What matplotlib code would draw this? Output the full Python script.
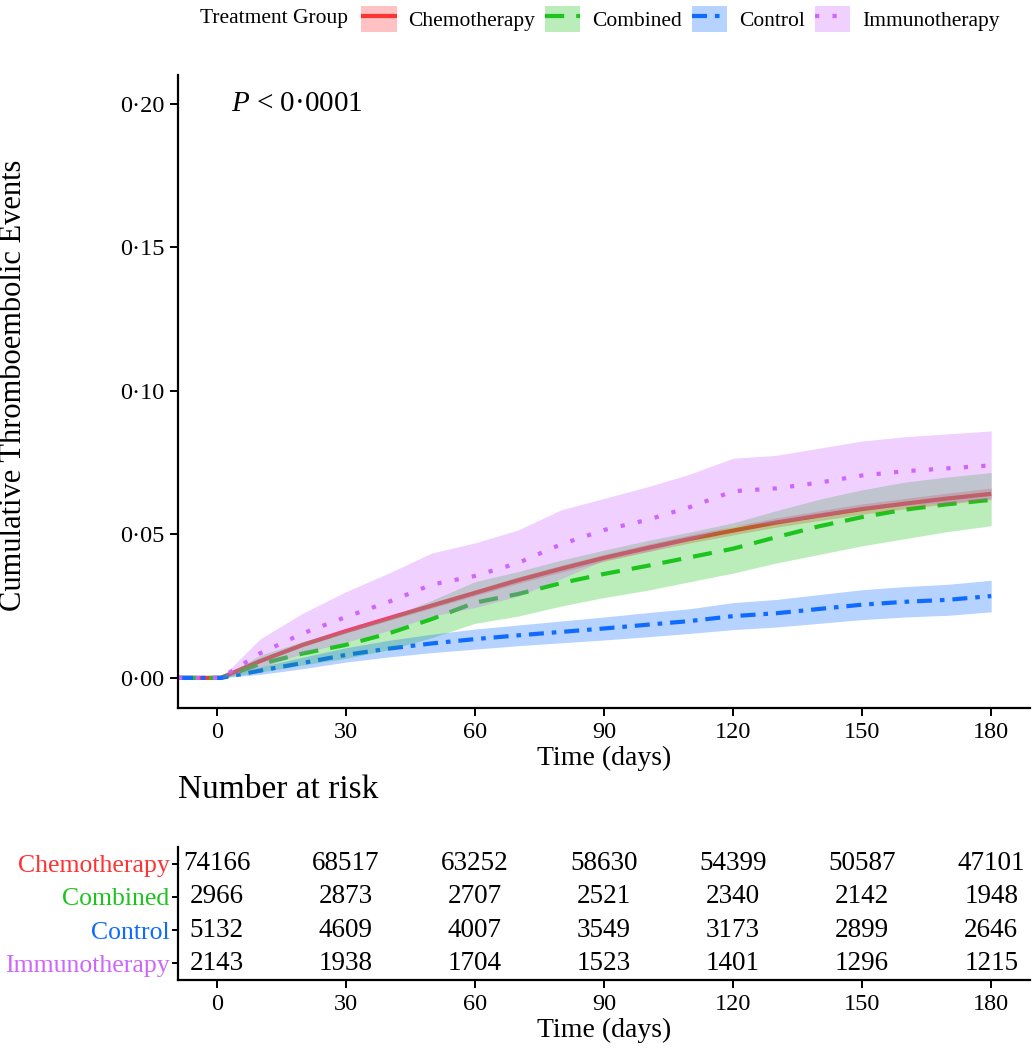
import matplotlib
matplotlib.use("Agg")
import matplotlib.pyplot as plt
from matplotlib.patches import Patch
from matplotlib.lines import Line2D
import numpy as np

plt.rcParams['font.family'] = ['Liberation Serif', 'DejaVu Serif']
plt.rcParams['mathtext.fontset'] = 'custom'
plt.rcParams['mathtext.rm'] = 'Liberation Serif'
plt.rcParams['mathtext.it'] = 'Liberation Serif:italic'

# ---------------- data ----------------
groups = ["Chemotherapy", "Combined", "Control", "Immunotherapy"]
colors = ["#FF3333", "#1DC41D", "#0F6BFF", "#CC66FF"]

times = [-9, 1, 10, 20, 30, 40, 50, 60, 70, 80, 90, 100, 110, 120, 130, 140, 150, 160, 170, 180]

chemo_est = [0, 0, 0.0058, 0.0115, 0.0163, 0.0208, 0.0252, 0.0296, 0.0340, 0.0380, 0.0418,
             0.0452, 0.0484, 0.0513, 0.0541, 0.0565, 0.0588, 0.0607, 0.0625, 0.0641]
chemo_lo = [0, 0, 0.0053, 0.0109, 0.0156, 0.0200, 0.0243, 0.0286, 0.0329, 0.0368, 0.0406,
            0.0439, 0.0470, 0.0498, 0.0525, 0.0548, 0.0570, 0.0589, 0.0606, 0.0621]
chemo_hi = [0, 0, 0.0063, 0.0121, 0.0170, 0.0216, 0.0261, 0.0306, 0.0351, 0.0392, 0.0430,
            0.0465, 0.0498, 0.0528, 0.0557, 0.0582, 0.0606, 0.0625, 0.0644, 0.0661]

comb_est = [0, 0, 0.0048, 0.0085, 0.0115, 0.0155, 0.0205, 0.0262, 0.0292, 0.0330, 0.0362,
            0.0390, 0.0420, 0.0450, 0.0490, 0.0528, 0.0560, 0.0586, 0.0605, 0.0620]
comb_lo = [0, 0, 0.0020, 0.0045, 0.0068, 0.0098, 0.0140, 0.0190, 0.0215, 0.0250, 0.0280,
           0.0305, 0.0335, 0.0365, 0.0400, 0.0430, 0.0460, 0.0485, 0.0510, 0.0530]
comb_hi = [0, 0, 0.0078, 0.0127, 0.0165, 0.0210, 0.0270, 0.0335, 0.0370, 0.0410, 0.0445,
           0.0478, 0.0508, 0.0540, 0.0582, 0.0622, 0.0655, 0.0682, 0.0700, 0.0715]

ctrl_est = [0, 0, 0.0025, 0.0052, 0.0080, 0.0102, 0.0120, 0.0135, 0.0148, 0.0160, 0.0172,
            0.0185, 0.0198, 0.0215, 0.0225, 0.0240, 0.0255, 0.0265, 0.0272, 0.0285]
ctrl_lo = [0, 0, 0.0012, 0.0032, 0.0055, 0.0073, 0.0088, 0.0100, 0.0112, 0.0122, 0.0132,
           0.0143, 0.0155, 0.0168, 0.0177, 0.0190, 0.0203, 0.0212, 0.0218, 0.0230]
ctrl_hi = [0, 0, 0.0038, 0.0072, 0.0105, 0.0131, 0.0152, 0.0170, 0.0184, 0.0198, 0.0212,
           0.0227, 0.0241, 0.0262, 0.0273, 0.0290, 0.0307, 0.0318, 0.0326, 0.0340]

immu_est = [0, 0, 0.0085, 0.0155, 0.0212, 0.0265, 0.0325, 0.0355, 0.0400, 0.0465, 0.0515,
            0.0550, 0.0595, 0.0650, 0.0660, 0.0680, 0.0705, 0.0720, 0.0730, 0.0740]
immu_lo = [0, 0, 0.0035, 0.0085, 0.0125, 0.0165, 0.0215, 0.0245, 0.0285, 0.0345, 0.0410,
           0.0440, 0.0480, 0.0530, 0.0540, 0.0560, 0.0585, 0.0600, 0.0610, 0.0625]
immu_hi = [0, 0, 0.0135, 0.0225, 0.0300, 0.0365, 0.0435, 0.0470, 0.0515, 0.0585, 0.0625,
           0.0665, 0.0710, 0.0765, 0.0775, 0.0800, 0.0825, 0.0840, 0.0850, 0.0860]

risk_times = [0, 30, 60, 90, 120, 150, 180]
risk_chemo = [74166, 68517, 63252, 58630, 54399, 50587, 47101]
risk_comb = [2966, 2873, 2707, 2521, 2340, 2142, 1948]
risk_ctrl = [5132, 4609, 4007, 3549, 3173, 2899, 2646]
risk_immu = [2143, 1938, 1704, 1523, 1401, 1296, 1215]

y_ticks = [0.00, 0.05, 0.10, 0.15, 0.20]
y_tick_labels = ["0·00", "0·05", "0·10", "0·15", "0·20"]
x_ticks = [0, 30, 60, 90, 120, 150, 180]

# ---------------- styles ----------------
estimates = [chemo_est, comb_est, ctrl_est, immu_est]
lows = [chemo_lo, comb_lo, ctrl_lo, immu_lo]
highs = [chemo_hi, comb_hi, ctrl_hi, immu_hi]
risks = [risk_chemo, risk_comb, risk_ctrl, risk_immu]
lw = 3.0
dash_styles = [(0, ()), (0, (4.6, 2.9)), (0, (3.6, 1.9, 1.1, 1.9)), (0, (1.0, 3.2))]

fig = plt.figure(figsize=(10.32, 10.5), dpi=100)
ax = fig.add_axes([0.1725, 0.3257, 0.998 - 0.1725, 0.9286 - 0.3257])

for est, c, ls in zip(estimates, colors, dash_styles):
    ax.plot(times, est, color=c, lw=lw, linestyle=ls, zorder=2, solid_capstyle='butt')
for lo, hi, c in zip(lows, highs, colors):
    ax.fill_between(times, lo, hi, color=c, alpha=0.3, linewidth=0, zorder=3)

ax.set_xlim(-9, 189)
ax.set_ylim(-0.0105, 0.21)
ax.set_xticks(x_ticks)
ax.set_yticks(y_ticks)
ax.set_yticklabels(y_tick_labels)
for s in ['top', 'right']:
    ax.spines[s].set_visible(False)
for s in ['left', 'bottom']:
    ax.spines[s].set_linewidth(1.6)
ax.tick_params(axis='both', labelsize=17.5, length=6, width=1.4, colors='black', pad=4)
ax.set_xlabel("Time (days)", fontsize=20, labelpad=2)
ax.set_ylabel("Cumulative Thromboembolic Events", fontsize=22)
ax.yaxis.set_label_coords(-0.176, 0.51)
ax.text(3.3, 0.2, "$P$ < 0·0001", fontsize=21, va='center', ha='left')

# legend
handles = [(Patch(facecolor=c, alpha=0.3, edgecolor='none'),
            Line2D([], [], color=c, lw=lw, linestyle=ls))
           for c, ls in zip(colors, dash_styles)]
fig.text(200 / 1032, 1 - 19 / 1050, "Treatment Group", fontsize=15.5, va='center', ha='left')
leg = fig.legend(handles, groups, loc='center left', bbox_to_anchor=(361 / 1032, 1 - 19 / 1050),
                 ncol=4, frameon=False, fontsize=15.5, handlelength=1.65, handleheight=1.55,
                 handletextpad=0.55, columnspacing=0.45, borderpad=0, borderaxespad=0)

# risk table
rax = fig.add_axes([0.1725, 0.0667, 0.998 - 0.1725, 0.1933 - 0.0667])
rax.set_xlim(-9, 189)
rax.set_ylim(0.5, 4.5)
n = len(groups)
for i, (vals, c) in enumerate(zip(risks, colors)):
    yy = n - i
    for t, v in zip(risk_times, vals):
        rax.text(t, yy, str(v), ha='center', va='center', fontsize=19.5, color='black')
rax.set_yticks([n - i for i in range(n)])
rax.set_yticklabels(groups, fontsize=18.5)
for lab, c in zip(rax.get_yticklabels(), colors):
    lab.set_color(c)
rax.set_xticks(x_ticks)
for s in ['top', 'right']:
    rax.spines[s].set_visible(False)
for s in ['left', 'bottom']:
    rax.spines[s].set_linewidth(1.6)
rax.tick_params(axis='x', labelsize=17.5, length=6, width=1.4, pad=4)
rax.tick_params(axis='y', length=4, width=1.4, pad=2)
rax.set_xlabel("Time (days)", fontsize=20, labelpad=2)
fig.text(178 / 1032, 1 - 790 / 1050, "Number at risk", fontsize=24, va='center', ha='left')

fig.savefig("out.png", dpi=100)
